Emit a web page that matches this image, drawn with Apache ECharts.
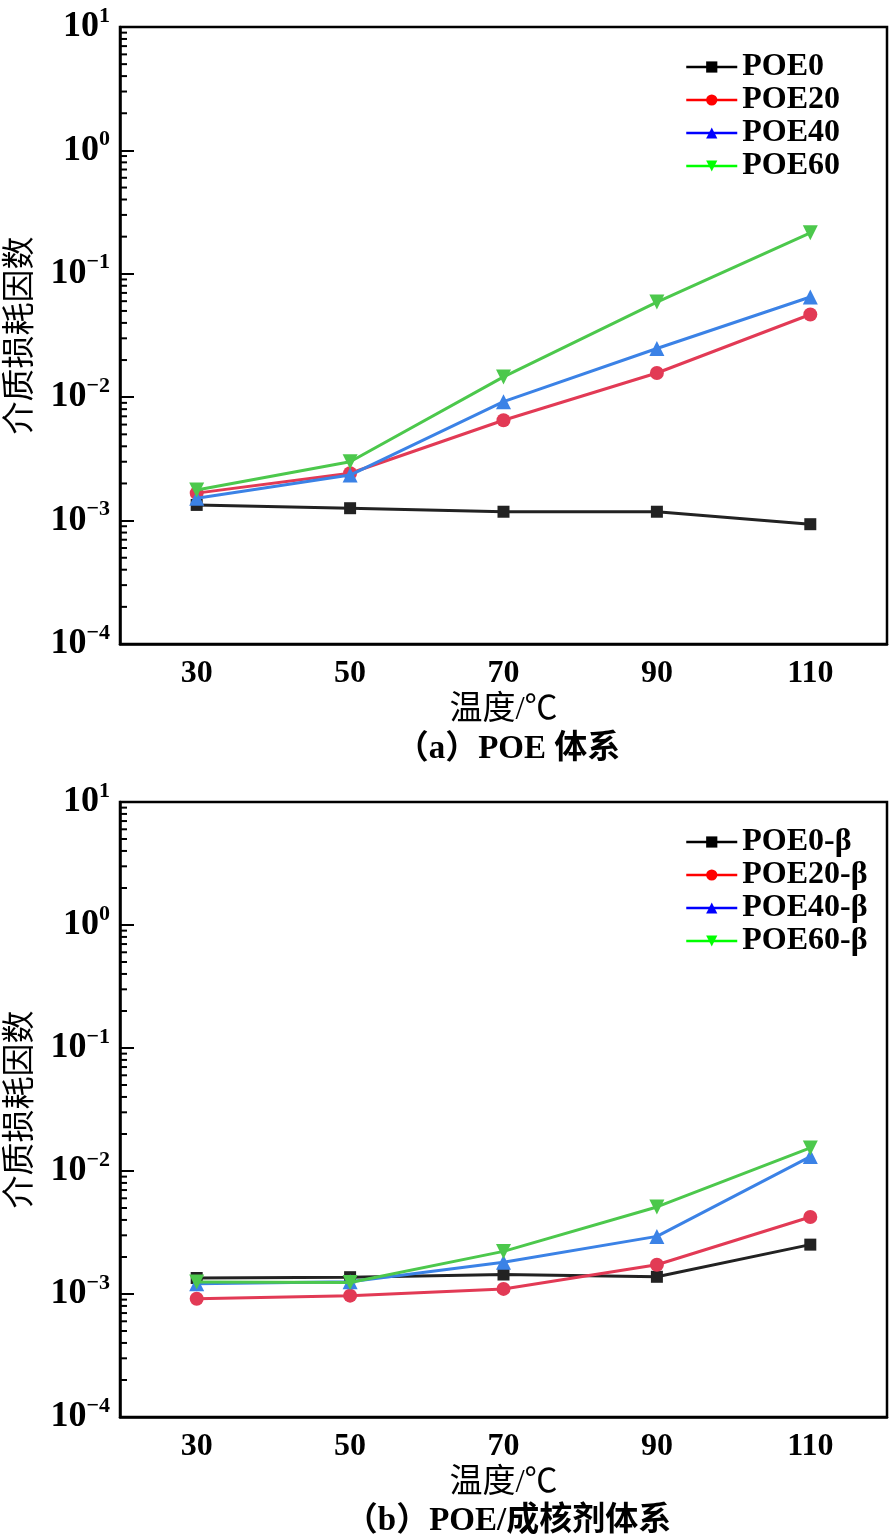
<!DOCTYPE html>
<html><head><meta charset="utf-8">
<script src="https://cdn.jsdelivr.net/npm/echarts@6/dist/echarts.min.js"></script>
<style>html,body{margin:0;padding:0;background:#fff}#c{width:891px;height:1539px}</style>
</head><body><div id="c"></div>
<script>
// ---- data ----
const temps = ['30', '50', '70', '90', '110'];
const namesA = ['POE0', 'POE20', 'POE40', 'POE60'];
const namesB = ['POE0-β', 'POE20-β', 'POE40-β', 'POE60-β'];
// panel (a)
const poe0  = [1.34e-3, 1.26e-3, 1.18e-3, 1.18e-3, 0.935e-3];
const poe20 = [1.67e-3, 2.42e-3, 6.5e-3, 1.57e-2, 4.68e-2];
const poe40 = [1.52e-3, 2.34e-3, 9.2e-3, 2.48e-2, 6.49e-2];
const poe60 = [1.77e-3, 3.0e-3, 1.46e-2, 5.9e-2, 0.215];
// panel (b)
const poe0b  = [1.35e-3, 1.37e-3, 1.44e-3, 1.38e-3, 2.52e-3];
const poe20b = [0.916e-3, 0.97e-3, 1.1e-3, 1.73e-3, 4.23e-3];
const poe40b = [1.21e-3, 1.26e-3, 1.81e-3, 2.94e-3, 1.31e-2];
const poe60b = [1.25e-3, 1.24e-3, 2.22e-3, 5.1e-3, 1.54e-2];
// axis
const yMin = 1e-4, yMax = 10;
const minorMantissas = [2, 3, 4, 5, 6, 7, 8, 9];
const minorDecades = [-4, -3, -2, -1, 0];
const yName = '介质损耗因数';
const xName = '温度/℃';
const captionA = '（a）POE 体系';
const captionB = '（b）POE/成核剂体系';

// ---- styles ----
const lineColors = ['#222222', '#e23a55', '#3b82e6', '#4cc84c'];
const legendColors = ['#000000', '#ff0000', '#0000ff', '#00ff00'];
const symbols = ['rect', 'circle', 'triangle', 'triangle'];
const symSizes = [12, 14, 15, 15];
const symRot = [0, 0, 0, 180];
const FONT = '"Liberation Serif", "Times New Roman", "Noto Sans CJK SC", serif';
const CJK = '"Liberation Serif", "Noto Sans CJK SC", serif';

const minorVals = [];
minorDecades.forEach(d => minorMantissas.forEach(m => minorVals.push([0, m * Math.pow(10, d)])));

const grids = [
  { left: 120, top: 27, width: 767, height: 617 },
  { left: 120, top: 802, width: 767, height: 615 }
];

function supLabel(v) {
  const e = Math.round(Math.log10(v));
  return '{b|10}{s|' + String(e).replace('-', '−') + '}';
}

function makeX(i) {
  return {
    type: 'category', gridIndex: i, data: temps, boundaryGap: true,
    axisLine: { lineStyle: { color: '#000', width: 2.5 } },
    axisTick: { inside: true, alignWithLabel: true, length: 13, lineStyle: { color: '#000', width: 2 } },
    axisLabel: { color: '#000', fontFamily: FONT, fontSize: 32, fontWeight: 'bold', margin: 14 },
    splitLine: { show: false },
    name: xName, nameLocation: 'middle', nameGap: 50,
    nameTextStyle: { color: '#000', fontFamily: CJK, fontSize: 33 }
  };
}
function makeY(i) {
  return {
    type: 'log', logBase: 10, gridIndex: i, min: yMin, max: yMax,
    axisLine: { show: true, lineStyle: { color: '#000', width: 2.5 } },
    axisTick: { show: true, inside: true, length: 14, lineStyle: { color: '#000', width: 2 } },
    axisLabel: {
      formatter: supLabel, margin: 10,
      rich: {
        b: { fontFamily: FONT, fontSize: 36, fontWeight: 'bold', color: '#000' },
        s: { fontFamily: FONT, fontSize: 22, fontWeight: 'bold', color: '#000', padding: [0, 0, 22, 0] }
      }
    },
    splitLine: { show: false },
    name: yName, nameLocation: 'middle', nameRotate: 90, nameGap: 82,
    nameTextStyle: { color: '#000', fontFamily: CJK, fontSize: 33 }
  };
}

function lineSeries(name, data, k, gi) {
  return {
    type: 'line', name: name, data: data, xAxisIndex: gi, yAxisIndex: gi,
    symbol: symbols[k], symbolSize: symSizes[k], symbolRotate: symRot[k],
    lineStyle: { color: lineColors[k], width: 3 },
    itemStyle: { color: lineColors[k] },
    z: 3 + k
  };
}
function minorSeries(gi) {
  return {
    type: 'custom', xAxisIndex: gi, yAxisIndex: gi, data: minorVals, silent: true, clip: false, z: 1,
    renderItem: function (params, api) {
      const y = api.coord([0, api.value(1)])[1];
      const x = params.coordSys.x;
      return { type: 'line', shape: { x1: x, y1: y, x2: x + 7, y2: y }, style: { stroke: '#000', lineWidth: 2 } };
    }
  };
}
function makeLegend(names, top) {
  return {
    left: 680, top: top, orient: 'vertical', itemWidth: 51, itemHeight: 14, itemGap: 1,
    textStyle: { fontFamily: FONT, fontSize: 32, fontWeight: 'bold', color: '#000', lineHeight: 32 },
    data: names.map((n, k) => ({ name: n, itemStyle: { color: legendColors[k] }, lineStyle: { color: legendColors[k], width: 2.5 } }))
  };
}

const series = [
  lineSeries(namesA[0], poe0, 0, 0), lineSeries(namesA[1], poe20, 1, 0),
  lineSeries(namesA[2], poe40, 2, 0), lineSeries(namesA[3], poe60, 3, 0),
  lineSeries(namesB[0], poe0b, 0, 1), lineSeries(namesB[1], poe20b, 1, 1),
  lineSeries(namesB[2], poe40b, 2, 1), lineSeries(namesB[3], poe60b, 3, 1),
  minorSeries(0), minorSeries(1)
];

const chart = echarts.init(document.getElementById('c'), null, { renderer: 'canvas' });
chart.setOption({
  backgroundColor: '#fff',
  animation: false,
  grid: grids.map(g => Object.assign({ show: true, borderColor: '#000', borderWidth: 2.5, backgroundColor: 'transparent', containLabel: false, outerBoundsMode: 'none' }, g)),
  xAxis: [makeX(0), makeX(1)],
  yAxis: [makeY(0), makeY(1)],
  legend: [makeLegend(namesA, 46), makeLegend(namesB, 821)],
  title: [
    { text: captionA, left: 503, top: 728, textAlign: 'center', textStyle: { fontFamily: CJK, fontSize: 33, fontWeight: 'bold', color: '#000' } },
    { text: captionB, left: 503, top: 1500, textAlign: 'center', textStyle: { fontFamily: CJK, fontSize: 33, fontWeight: 'bold', color: '#000' } }
  ],
  series: series
});
</script></body></html>
